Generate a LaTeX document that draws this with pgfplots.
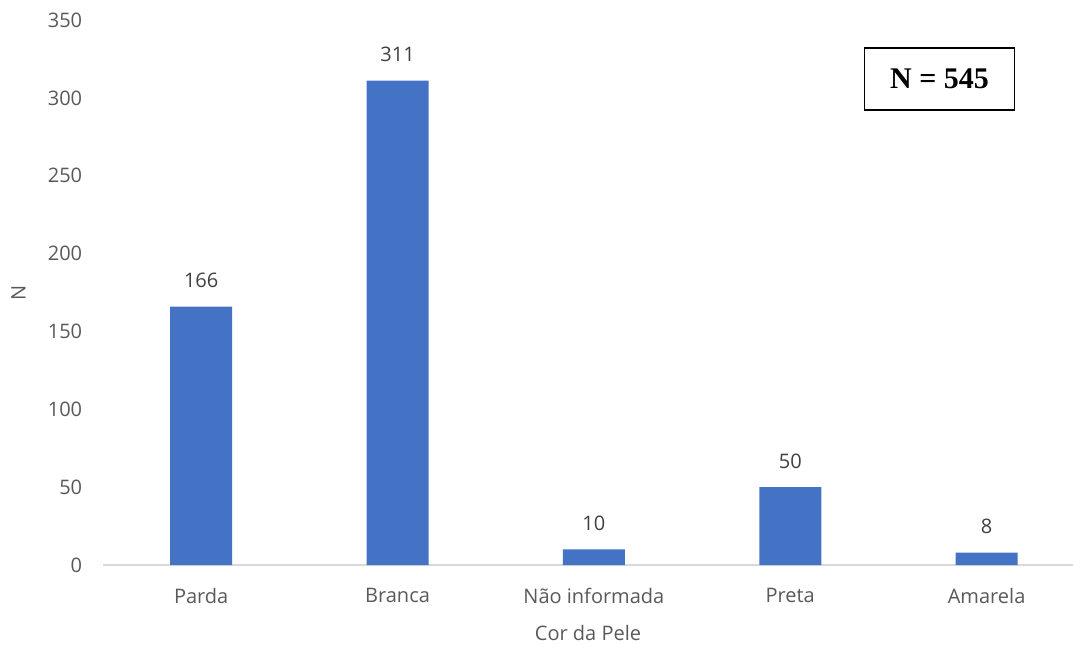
\documentclass[border=0pt]{standalone}
\usepackage{fontspec}
\setmainfont{Open Sans}
\newfontfamily\boxfont{Liberation Serif}
\usepackage{pgfplots}
\pgfplotsset{compat=1.18}
\definecolor{barblue}{HTML}{4472C4}
\definecolor{ticktext}{HTML}{595959}
\definecolor{labtext}{HTML}{404040}
\definecolor{axisgray}{HTML}{D9D9D9}
\begin{document}
\fontsize{20pt}{24pt}\selectfont
\begin{tikzpicture}
\useasboundingbox (-103pt,-81pt) rectangle (970pt,565pt);
\begin{axis}[
  at={(0,0)}, anchor=south west,
  scale only axis,
  width=970pt, height=545pt,
  xmin=-0.5, xmax=4.44,
  ymin=0, ymax=350,
  ytick={0,50,...,350},
  xtick={0,1,2,3,4},
  xticklabels={Parda,Branca,Não informada,Preta,Amarela},
  axis y line*=left,
  y axis line style={draw=none},
  axis x line*=bottom,
  x axis line style={axisgray, line width=1.5pt, -},
  major tick length=0pt,
  tick style={draw=none},
  yticklabel style={ticktext, font=\fontsize{20pt}{24pt}\selectfont, xshift=-14pt},
  xticklabel style={ticktext, font=\fontsize{20pt}{24pt}\selectfont, yshift=-16pt},
  xlabel={Cor da Pele},
  ylabel={N},
  xlabel style={ticktext, font=\fontsize{20pt}{24pt}\selectfont, yshift=-8pt},
  ylabel style={ticktext, font=\fontsize{20pt}{24pt}\selectfont,
    at={(axis description cs:-0.087,0.5)}, anchor=center, rotate=0},
  /pgf/number format/assume math mode=true,
  clip=false,
]
\addplot[ybar, bar width=62pt, fill=barblue, draw=none,
  nodes near coords,
  nodes near coords style={labtext, font=\fontsize{20pt}{24pt}\selectfont, yshift=12pt}]
  coordinates {(0,166) (1,311) (2,10) (3,50) (4,8)};
\node[draw=black, line width=1.5pt, minimum width=150pt, minimum height=62pt,
  font=\boxfont\bfseries\fontsize{30pt}{34pt}\selectfont]
  at (axis cs:3.76,312) {N = 545};
\end{axis}
\end{tikzpicture}
\end{document}
